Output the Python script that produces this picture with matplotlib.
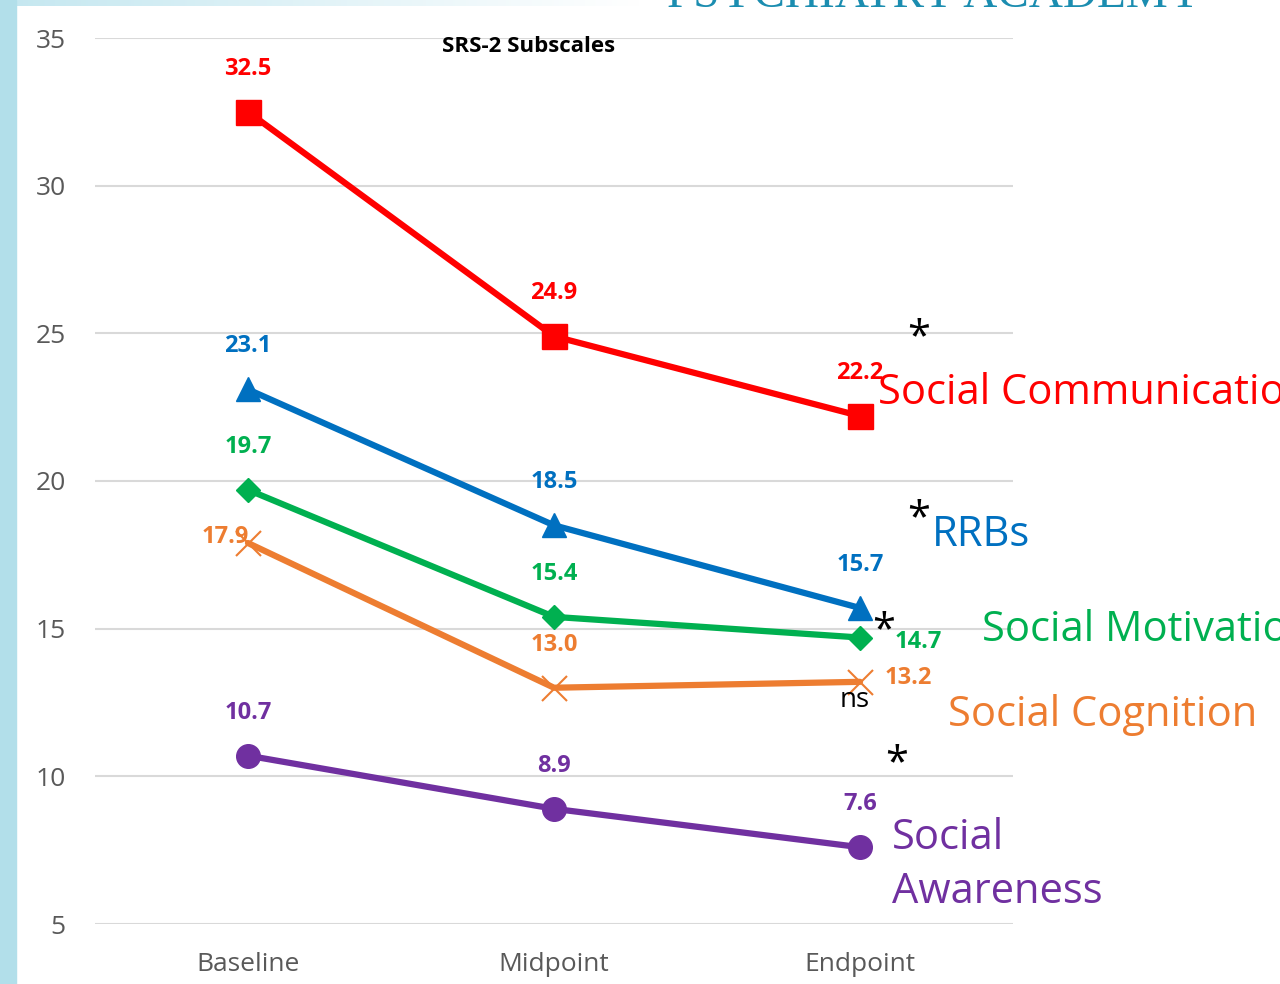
import numpy as np
import matplotlib.pyplot as plt
from matplotlib.patches import Rectangle
from matplotlib.colors import LinearSegmentedColormap

# data
timepoints = ['Baseline', 'Midpoint', 'Endpoint']
social_communication = [32.5, 24.9, 22.2]
rrbs = [23.1, 18.5, 15.7]
social_motivation = [19.7, 15.4, 14.7]
social_cognition = [17.9, 13.0, 13.2]
social_awareness = [10.7, 8.9, 7.6]
y_ticks = [5, 10, 15, 20, 25, 30, 35]

plt.rcParams['font.family'] = ['Open Sans', 'DejaVu Sans']

fig = plt.figure(figsize=(12.8, 9.84), dpi=100)
# slide decoration: light blue strip on the left and a fading band on top
fig.patches.append(Rectangle((0, 0), 16 / 1280, 1, transform=fig.transFigure,
                             color='#B2DFEA', zorder=0))
band = fig.add_axes([0, 1 - 6 / 984, 0.5, 6 / 984], zorder=0)
grad = np.linspace(0, 1, 256).reshape(1, -1)
band.imshow(grad, aspect='auto', cmap=LinearSegmentedColormap.from_list('b', ['#C4E7F0', '#FFFFFF']))
band.axis('off')
fig.text(0.73, 1 - 7 / 984, 'PSYCHIATRY ACADEMY', ha='center', va='baseline',
         fontsize=34, color='#1B8DB0', family='Liberation Serif')

ax = fig.add_axes([95 / 1280, 60 / 984, 918 / 1280, 886 / 984])
x = list(range(len(timepoints)))

series = [
    (social_communication, '#FF0000', 's', 18),
    (rrbs, '#0070C0', '^', 17),
    (social_motivation, '#00B050', 'D', 12),
    (social_cognition, '#ED7D31', 'x', 18),
    (social_awareness, '#7030A0', 'o', 17),
]

for vals, col, mk, ms in series:
    mew = 1.5 if mk == 'x' else 1.0
    ax.plot(x, vals, color=col, lw=4.5, marker=mk, ms=ms, mew=mew,
            solid_capstyle='round', zorder=3)

# data labels (offsets in points)
special = {('#00B050', 2): (42, -3), ('#ED7D31', 0): (-16, 4), ('#ED7D31', 2): (35, 3)}
for vals, col, mk, ms in series:
    for i, v in enumerate(vals):
        off = special.get((col, i), (0, 31))
        ax.annotate(f'{v:.1f}', (i, v), xytext=off, textcoords='offset points',
                    ha='center', va='center', color=col, fontsize=17,
                    fontweight='bold', zorder=5)

# series names on the right
ax.text(2.059, 22.98, 'Social Communication', color='#FF0000', fontsize=30,
        va='center', ha='left', clip_on=False)
ax.text(2.235, 18.17, 'RRBs', color='#0070C0', fontsize=30, va='center', ha='left')
ax.text(2.399, 14.95, 'Social Motivation', color='#00B050', fontsize=30,
        va='center', ha='left', clip_on=False)
ax.text(2.288, 12.07, 'Social Cognition', color='#ED7D31', fontsize=30,
        va='center', ha='left')
ax.text(2.105, 7.0, 'Social\nAwareness', color='#7030A0', fontsize=30,
        va='center', ha='left', linespacing=1.35)

# significance marks
for sx, sy in [(2.19, 24.85), (2.19, 18.7), (2.078, 14.9), (2.12, 10.4)]:
    ax.text(sx, sy, '*', fontsize=30, ha='center', va='center', color='black')
ax.text(1.984, 12.6, 'ns', fontsize=20, ha='center', va='center', color='black')

ax.set_title('SRS-2 Subscales', fontsize=16, fontweight='bold', y=0.975,
             x=0.472)

ax.set_xlim(-0.5, 2.5)
ax.set_ylim(5, 35)
ax.set_yticks(y_ticks)
ax.set_xticks(x)
ax.set_xticklabels(timepoints)
ax.tick_params(length=0, labelsize=19, labelcolor='#595959')
ax.tick_params(axis='y', pad=21)
ax.tick_params(axis='x', pad=20)
ax.grid(axis='y', color='#D9D9D9', lw=1.5)
ax.set_axisbelow(True)
for s in ax.spines.values():
    s.set_visible(False)

fig.savefig('out.png', dpi=100)
